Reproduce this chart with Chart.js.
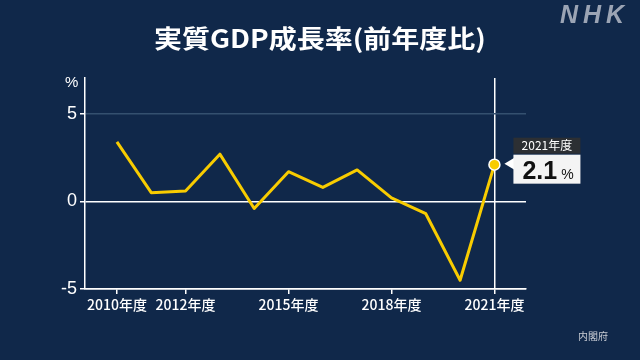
<!DOCTYPE html>
<html><head><meta charset="utf-8">
<script src="https://cdn.jsdelivr.net/npm/chart.js@4"></script>
<style>
html,body{margin:0;padding:0;background:#10284a;}
#wrap{position:relative;width:640px;height:360px;background:#10284a;overflow:hidden;font-family:"Noto Sans CJK JP","Noto Sans",sans-serif;}
#c{position:absolute;left:0;top:0;}
#title{position:absolute;left:0;width:640px;top:20px;text-align:center;color:#fff;font-weight:bold;font-size:25px;line-height:34px;transform:scaleX(1.12);transform-origin:320px 0;}
#nhk{position:absolute;left:560px;top:0px;color:#9ba4b4;font-family:"Liberation Sans",sans-serif;font-weight:bold;font-style:italic;font-size:25px;letter-spacing:5px;}
#src{position:absolute;left:578px;top:328px;color:#c8ccd4;font-size:10px;}
#pct{position:absolute;left:65px;top:73px;color:#fff;font-family:"Liberation Sans",sans-serif;font-size:15px;}
</style></head>
<body><div id="wrap">
<canvas id="c" width="640" height="360"></canvas>
<div id="title">実質GDP成長率(前年度比)</div>
<div id="nhk">NHK</div>
<div id="src">内閣府</div>
<div id="pct">%</div>
</div>
<script>
const years = [2010,2011,2012,2013,2014,2015,2016,2017,2018,2019,2020,2021];
const growth = [3.4,0.5,0.6,2.7,-0.4,1.7,0.8,1.8,0.2,-0.7,-4.5,2.1];
const xTicks = [2010,2012,2015,2018,2021];
const yTicks = [-5,0,5];
const calloutYear = '2021年度';
const calloutValue = '2.1';

const lastIdx = years.length - 1;
const callout = {
  id:'callout',
  afterDatasetsDraw(chart){
    const p = chart.getDatasetMeta(0).data[lastIdx];
    const ctx = chart.ctx;
    const x = p.x, y = p.y;
    ctx.save();
    ctx.fillStyle = '#ffffff';
    ctx.beginPath();
    ctx.moveTo(x+10, y-1);
    ctx.lineTo(x+20, y-7);
    ctx.lineTo(x+20, y+5);
    ctx.closePath(); ctx.fill();
    const bx = x+19, bw = 67;
    ctx.fillStyle = '#2c2f33';
    ctx.fillRect(bx, y-27, bw, 16);
    ctx.fillStyle = '#ffffff';
    ctx.font = '12px "Noto Sans CJK JP"';
    ctx.textAlign='center'; ctx.textBaseline='middle';
    ctx.fillText(calloutYear, bx+bw/2, y-19);
    ctx.fillStyle = '#f4f4f4';
    ctx.fillRect(bx, y-10, bw, 29);
    ctx.fillStyle = '#111';
    ctx.font = 'bold 25px "Liberation Sans"';
    ctx.textAlign='left'; ctx.textBaseline='alphabetic';
    const w = ctx.measureText(calloutValue).width;
    ctx.fillText(calloutValue, bx+9, y+14);
    ctx.font = '14px "Liberation Sans"';
    ctx.fillText('%', bx+13+w, y+14);
    ctx.restore();
  }
};

new Chart(document.getElementById('c'), {
  type:'line',
  data:{datasets:[{
    data: years.map((yr,i)=>({x:yr, y:growth[i]})),
    borderColor:'#f8cc00',
    borderWidth:3,
    tension:0,
    borderJoinStyle:'round',
    pointRadius: ctx => ctx.dataIndex===lastIdx ? 5.5 : 0,
    pointHoverRadius: 0,
    pointBackgroundColor:'#f8cc00',
    pointBorderColor:'#ffffff',
    pointBorderWidth:1.5
  }]},
  options:{
    responsive:false, animation:false,
    layout:{padding:{top:78,right:114,left:0,bottom:0}},
    plugins:{legend:{display:false},tooltip:{enabled:false}},
    scales:{
      x:{
        type:'linear', min:2009.07, max:2021.92,
        afterBuildTicks: s => { s.ticks = xTicks.map(v=>({value:v})); },
        afterFit: s => { s.height = 71; },
        ticks:{color:'#ffffff', font:{family:'"Noto Sans CJK JP"', size:14, weight:'500'}, padding:2,
          maxRotation:0, autoSkip:false, callback: v => v + '年度'},
        grid:{color: c => (c.tick && c.tick.value===2021) ? '#ffffff' : 'rgba(0,0,0,0)',
          lineWidth:1.5, tickColor:'#ffffff', tickLength:5, drawTicks:true},
        border:{display:true, color:'#ffffff', width:1.5}
      },
      y:{
        min:-5, max:7.05,
        afterBuildTicks: s => { s.ticks = yTicks.map(v=>({value:v})); },
        afterFit: s => { s.width = 85; },
        ticks:{color:'#ffffff', font:{family:'"Liberation Sans"', size:18}, padding:3},
        grid:{color: c => (c.tick && c.tick.value===5) ? '#34506f' : '#ffffff',
          lineWidth:1.5, tickColor:'#ffffff', tickLength:5},
        border:{display:true, color:'#ffffff', width:1.5}
      }
    }
  },
  plugins:[callout]
});
</script>
</body></html>
